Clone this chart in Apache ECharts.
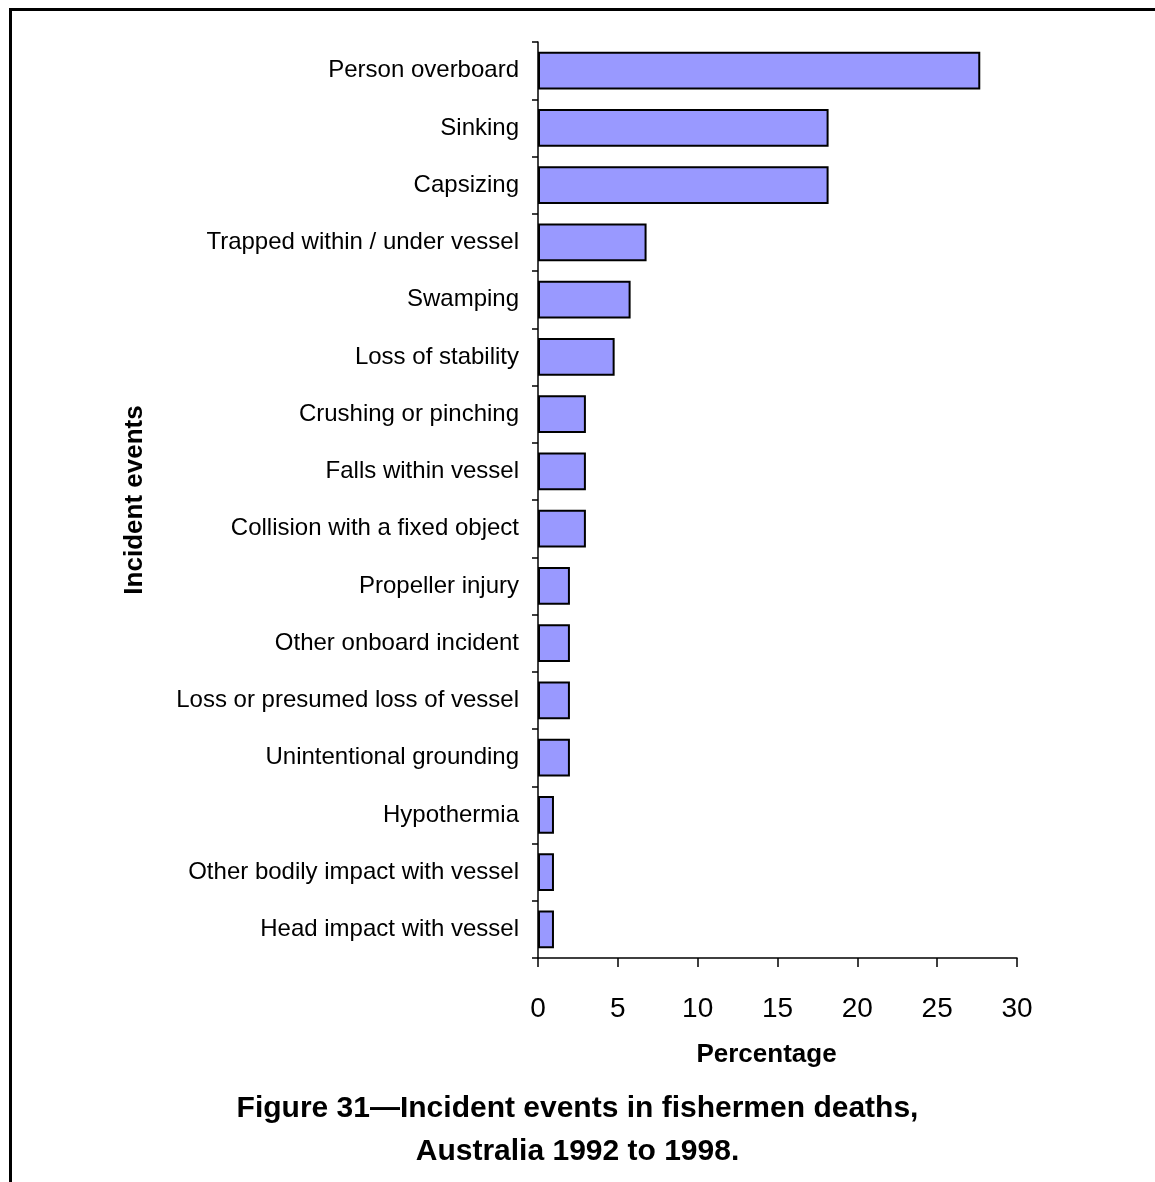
<!DOCTYPE html>
<html lang="en">
<head>
    <meta charset="utf-8">
    <script src="https://cdn.jsdelivr.net/npm/echarts@6/dist/echarts.min.js"></script>
    <style>
        html, body { margin: 0; padding: 0; background: #fff; }
        #frame { position: absolute; left: 9px; top: 8px; width: 1146px; height: 1174px;
                 border-top: 3px solid #000; border-left: 3px solid #000; box-sizing: border-box; }
        #main { position: absolute; left: 0; top: 0; width: 1155px; height: 1182px; }
    </style>
</head>
<body>
<div id="frame"></div>
<div id="main"></div>
<script>
    // categories, top to bottom as in the figure
    var events = [
        'Person overboard',
        'Sinking',
        'Capsizing',
        'Trapped within / under vessel',
        'Swamping',
        'Loss of stability',
        'Crushing or pinching',
        'Falls within vessel',
        'Collision with a fixed object',
        'Propeller injury',
        'Other onboard incident',
        'Loss or presumed loss of vessel',
        'Unintentional grounding',
        'Hypothermia',
        'Other bodily impact with vessel',
        'Head impact with vessel'
    ];
    // percentage of deaths
    var percents = [27.7, 18.2, 18.2, 6.8, 5.8, 4.8, 3.0, 3.0, 3.0, 2.0, 2.0, 2.0, 2.0, 1.0, 1.0, 1.0];
    var xTicks = [0, 5, 10, 15, 20, 25, 30];

    var font = 'Arial, "Liberation Sans", sans-serif';
    var chart = echarts.init(document.getElementById('main'));
    chart.setOption({
        animation: false,
        title: {
            text: 'Figure 31\u2014Incident events in fishermen deaths,\nAustralia 1992 to 1998.',
            left: 'center',
            top: 1082,
            textStyle: { fontFamily: font, fontSize: 30, fontWeight: 'bold', color: '#000', lineHeight: 43 }
        },
        grid: { left: 538, right: 138, top: 42, bottom: 224 },
        xAxis: {
            type: 'value',
            min: xTicks[0],
            max: xTicks[xTicks.length - 1],
            interval: 5,
            name: 'Percentage',
            nameLocation: 'middle',
            nameGap: 84,
            nameTextStyle: { fontFamily: font, fontSize: 26, fontWeight: 'bold', color: '#000', padding: [0, 22, 0, 0] },
            axisLine: { show: true, lineStyle: { color: '#000', width: 1.5 } },
            axisTick: { show: true, length: 9, lineStyle: { color: '#000', width: 1.5 } },
            axisLabel: { fontFamily: font, fontSize: 28, color: '#000', margin: 37 },
            splitLine: { show: false }
        },
        yAxis: {
            type: 'category',
            inverse: true,
            data: events,
            name: 'Incident events',
            nameLocation: 'middle',
            nameGap: 390,
            nameRotate: 90,
            nameTextStyle: { fontFamily: font, fontSize: 26, fontWeight: 'bold', color: '#000' },
            axisLine: { show: true, lineStyle: { color: '#000', width: 1.5 } },
            axisTick: { show: true, length: 6, lineStyle: { color: '#000', width: 1.5 } },
            axisLabel: { fontFamily: font, fontSize: 24, color: '#000', margin: 19 }
        },
        series: [{
            type: 'bar',
            data: percents,
            barCategoryGap: '34%',
            itemStyle: { color: '#9999FF', borderColor: '#000', borderWidth: 2 }
        }]
    });
</script>
</body>
</html>
